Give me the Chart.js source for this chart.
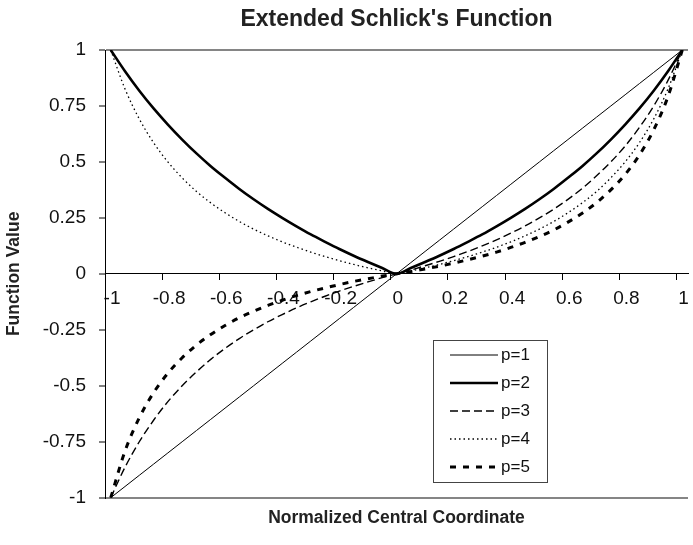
<!DOCTYPE html>
<html>
<head>
<meta charset="utf-8">
<title>Extended Schlick's Function</title>
<script src="https://cdn.jsdelivr.net/npm/chart.js@4.4.0/dist/chart.umd.min.js"></script>
<style>
  html, body { margin: 0; padding: 0; background: #fff; }
  #wrap { width: 693px; height: 545px; }
</style>
</head>
<body>
<div id="wrap"><canvas id="chart" width="693" height="545"></canvas></div>
<script>
// normalized central coordinate
const xValues = [-1, -0.95, -0.9, -0.85, -0.8, -0.75, -0.7, -0.65, -0.6, -0.55, -0.5,
  -0.45, -0.4, -0.35, -0.3, -0.25, -0.2, -0.15, -0.1, -0.05, 0,
  0.05, 0.1, 0.15, 0.2, 0.25, 0.3, 0.35, 0.4, 0.45, 0.5,
  0.55, 0.6, 0.65, 0.7, 0.75, 0.8, 0.85, 0.9, 0.95, 1];

// function values
const p1 = [-1, -0.95, -0.9, -0.85, -0.8, -0.75, -0.7, -0.65, -0.6, -0.55, -0.5,
  -0.45, -0.4, -0.35, -0.3, -0.25, -0.2, -0.15, -0.1, -0.05, 0,
  0.05, 0.1, 0.15, 0.2, 0.25, 0.3, 0.35, 0.4, 0.45, 0.5,
  0.55, 0.6, 0.65, 0.7, 0.75, 0.8, 0.85, 0.9, 0.95, 1];
const p2 = [1, 0.905, 0.818, 0.739, 0.667, 0.6, 0.538, 0.481, 0.429, 0.379, 0.333,
  0.29, 0.25, 0.212, 0.176, 0.143, 0.111, 0.081, 0.053, 0.026, 0,
  0.026, 0.053, 0.081, 0.111, 0.143, 0.176, 0.212, 0.25, 0.29, 0.333,
  0.379, 0.429, 0.481, 0.538, 0.6, 0.667, 0.739, 0.818, 0.905, 1];
const p3 = [-1, -0.864, -0.75, -0.654, -0.571, -0.5, -0.438, -0.382, -0.333, -0.289, -0.25,
  -0.214, -0.182, -0.152, -0.125, -0.1, -0.077, -0.056, -0.036, -0.017, 0,
  0.017, 0.036, 0.056, 0.077, 0.1, 0.125, 0.152, 0.182, 0.214, 0.25,
  0.289, 0.333, 0.382, 0.438, 0.5, 0.571, 0.654, 0.75, 0.864, 1];
const p4 = [1, 0.826, 0.692, 0.586, 0.5, 0.429, 0.368, 0.317, 0.273, 0.234, 0.2,
  0.17, 0.143, 0.119, 0.097, 0.077, 0.059, 0.042, 0.027, 0.013, 0,
  0.013, 0.027, 0.042, 0.059, 0.077, 0.097, 0.119, 0.143, 0.17, 0.2,
  0.234, 0.273, 0.317, 0.368, 0.429, 0.5, 0.586, 0.692, 0.826, 1];
const p5 = [-1, -0.792, -0.643, -0.531, -0.444, -0.375, -0.318, -0.271, -0.231, -0.196, -0.167,
  -0.141, -0.118, -0.097, -0.079, -0.063, -0.048, -0.034, -0.022, -0.01, 0,
  0.01, 0.022, 0.034, 0.048, 0.063, 0.079, 0.097, 0.118, 0.141, 0.167,
  0.196, 0.231, 0.271, 0.318, 0.375, 0.444, 0.531, 0.643, 0.792, 1];

const seriesNames = ['p=1', 'p=2', 'p=3', 'p=4', 'p=5'];
const xTickLabels = [-1, -0.8, -0.6, -0.4, -0.2, 0, 0.2, 0.4, 0.6, 0.8, 1];
const yTickLabels = [-1, -0.75, -0.5, -0.25, 0, 0.25, 0.5, 0.75, 1];

const FONT = "'Liberation Sans', Arial, sans-serif";
// half a category: excel puts the tick marks between points
const HALF = 0.02;

const styles = [
  { borderWidth: 1, borderDash: [] },
  { borderWidth: 2.6, borderDash: [] },
  { borderWidth: 1.4, borderDash: [8, 4] },
  { borderWidth: 1.3, borderDash: [1.5, 3] },
  { borderWidth: 3, borderDash: [6, 7] }
];

function points(ys) {
  return xValues.map((x, i) => ({ x: x, y: ys[i] }));
}

const datasets = [p1, p2, p3, p4, p5].map((ys, i) => ({
  label: seriesNames[i],
  data: points(ys),
  borderColor: '#000',
  borderWidth: styles[i].borderWidth,
  borderDash: styles[i].borderDash,
  pointRadius: 0,
  fill: false,
  cubicInterpolationMode: 'monotone'
}));

// legend box inside the plot, excel style
const boxLegend = {
  id: 'boxLegend',
  afterDraw(chart) {
    const ctx = chart.ctx;
    const left = 433, top = 340, w = 114, h = 142;
    ctx.save();
    ctx.setLineDash([]);
    ctx.lineWidth = 1;
    ctx.strokeStyle = '#444';
    ctx.fillStyle = '#fff';
    ctx.fillRect(left, top, w, h);
    ctx.strokeRect(left + 0.5, top + 0.5, w, h);
    ctx.font = '17px ' + FONT;
    ctx.textBaseline = 'middle';
    ctx.textAlign = 'left';
    chart.data.datasets.forEach((ds, i) => {
      const y = top + 15 + i * 28;
      ctx.beginPath();
      ctx.strokeStyle = '#000';
      ctx.lineWidth = ds.borderWidth;
      ctx.setLineDash(ds.borderDash);
      ctx.moveTo(left + 17, y);
      ctx.lineTo(left + 65, y);
      ctx.stroke();
      ctx.fillStyle = '#111';
      ctx.fillText(ds.label, left + 68, y);
    });
    ctx.restore();
  }
};

new Chart(document.getElementById('chart'), {
  type: 'line',
  data: { datasets: datasets },
  options: {
    responsive: false,
    animation: false,
    devicePixelRatio: 1,
    layout: { padding: { left: 0, right: 5, top: 0, bottom: 0 } },
    plugins: {
      legend: { display: false },
      tooltip: { enabled: false },
      title: {
        display: true,
        fullSize: false,
        text: "Extended Schlick's Function",
        color: '#222',
        font: { family: FONT, size: 23, weight: 'bold' },
        padding: { top: 6, bottom: 16.4 }
      }
    },
    scales: {
      x: {
        type: 'linear',
        axis: 'x',
        min: -1 - HALF,
        max: 1 + HALF,
        position: { y: 0 },
        afterBuildTicks: (axis) => {
          axis.ticks = xTickLabels.map(v => ({ value: v - HALF }));
        },
        ticks: {
          autoSkip: false,
          maxRotation: 0,
          labelOffset: 7,
          padding: 8,
          color: '#111',
          font: { family: FONT, size: 19 },
          callback: (v) => String(Math.round((v + HALF) * 10) / 10)
        },
        grid: { drawOnChartArea: false, tickLength: 6, color: '#000', tickWidth: 1 },
        border: { color: '#000', width: 1 }
      },
      x2: {
        type: 'linear',
        axis: 'x',
        position: 'bottom',
        min: -1,
        max: 1,
        afterFit: (s) => { s.height = 47.3; },
        ticks: { display: false },
        grid: { display: false },
        border: { display: false },
        title: {
          display: true,
          text: 'Normalized Central Coordinate',
          color: '#222',
          font: { family: FONT, size: 17.5, weight: 'bold' },
          padding: { top: 0, bottom: 16 }
        }
      },
      y: {
        type: 'linear',
        position: 'left',
        min: -1,
        max: 1,
        afterFit: (s) => { s.width = 105; },
        afterBuildTicks: (axis) => {
          axis.ticks = yTickLabels.map(v => ({ value: v }));
        },
        ticks: {
          padding: 13,
          color: '#111',
          font: { family: FONT, size: 19 },
          callback: (v) => String(v)
        },
        grid: {
          tickLength: 6,
          tickColor: '#000',
          tickWidth: 1,
          lineWidth: 2,
          color: (c) => (c.tick && Math.abs(c.tick.value) === 1) ? '#858585' : 'rgba(0,0,0,0)'
        },
        border: { color: '#000', width: 1 },
        title: {
          display: true,
          text: 'Function Value',
          color: '#222',
          font: { family: FONT, size: 17.5, weight: 'bold' },
          padding: { top: 4, bottom: 0 }
        }
      }
    }
  },
  plugins: [boxLegend]
});
</script>
</body>
</html>
